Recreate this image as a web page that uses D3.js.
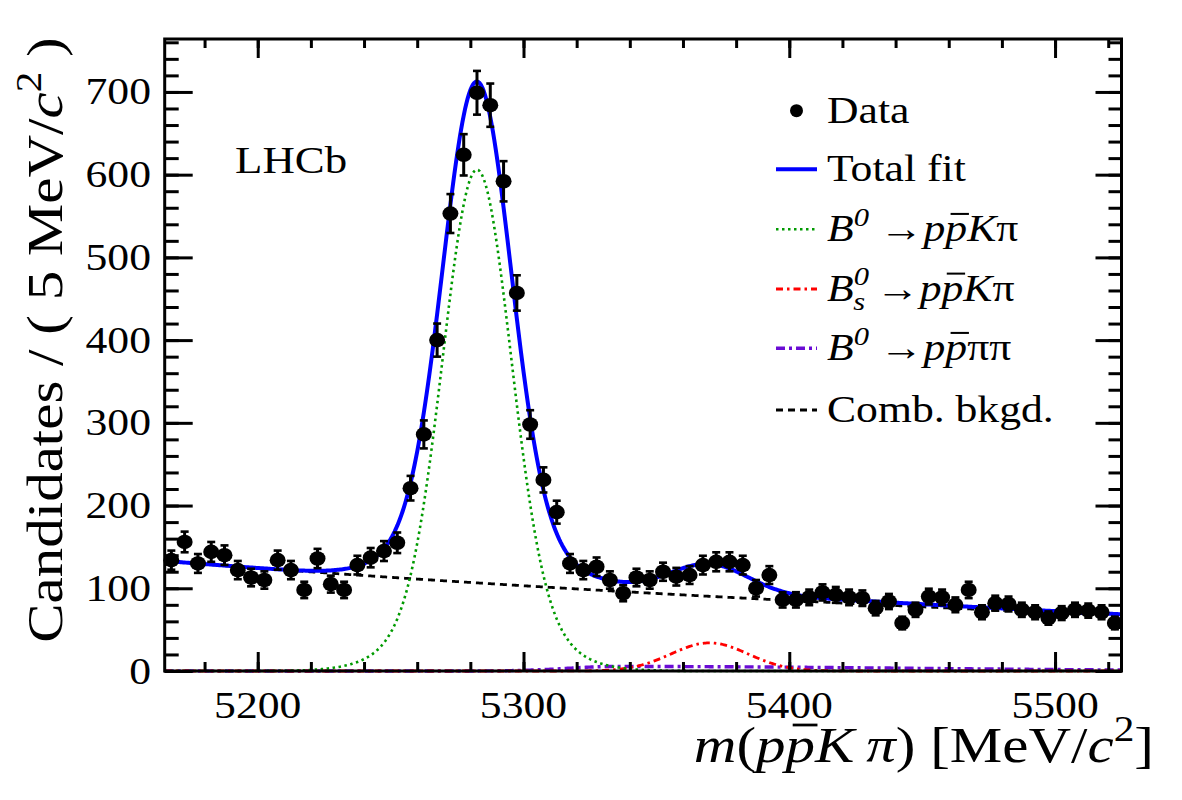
<!DOCTYPE html>
<html>
<head>
<meta charset="utf-8">
<script src="https://cdnjs.cloudflare.com/ajax/libs/d3/7.8.5/d3.min.js"></script>
<style>
body { margin: 0; background: #fff; }
svg { display: block; }
text { font-family: 'Liberation Serif', 'Times New Roman', serif; fill: #000; }
</style>
</head>
<body>
<svg width="1182" height="800"></svg>
<script>
// m(ppKpi) histogram, 5 MeV bins starting at 5165
const binStart = 5165
const binWidth = 5
const counts = [134, 156, 130, 144, 140, 122, 113, 110, 134, 122,
	98, 136, 105, 98, 128, 137, 145, 155, 221, 286,
	400, 553, 624, 699, 684, 592, 457, 298, 231, 192,
	130, 122, 126, 110, 94, 113, 110, 120, 114, 116,
	128, 132, 132, 128, 100, 116, 86, 86, 89, 95,
	92, 89, 88, 76, 84, 58, 74, 90, 89, 80,
	98, 71, 82, 81, 74, 71, 64, 70, 74, 73,
	71, 58]
const xMajor = [5200, 5300, 5400, 5500]
const yMajor = [0, 100, 200, 300, 400, 500, 600, 700]
const xRange = [5165, 5525]
const yRange = [0, 764]

// fit components
const b0Shape = [5282.5, 516, 12.5, 90, 21.5] // mean, core height, core sigma, tail height, tail sigma
const bsShape = [5370, 34, 14.5] // mean, height, sigma
const pipiShape = [5335, 5.5, 18, 110] // mode, height, left sigma, right sigma
const combShape = [133, -0.00189] // value at 5165, exponential slope

const legendNames = ['Data', 'Total fit', 'B0ppKpi', 'BsppKpi', 'B0pppipi', 'Comb. bkgd.']

const m = { left: 164.7, right: 1121.5, top: 39, bottom: 671 }
const SX = 1.18 // the glyphs in the picture are wider than Times

const svg = d3.select('svg')
const x = d3.scaleLinear().domain(xRange).range([m.left, m.right])
const y = d3.scaleLinear().domain(yRange).range([m.bottom, m.top])

const gauss = (v, mu, s) => Math.exp(-0.5 * ((v - mu) / s) ** 2)
const fB0 = v => b0Shape[1] * gauss(v, b0Shape[0], b0Shape[2]) + b0Shape[3] * gauss(v, b0Shape[0], b0Shape[4])
const fBs = v => bsShape[1] * gauss(v, bsShape[0], bsShape[2])
const fPiPi = v => pipiShape[1] * gauss(v, pipiShape[0], v < pipiShape[0] ? pipiShape[2] : pipiShape[3])
const fComb = v => combShape[0] * Math.exp(combShape[1] * (v - binStart))
const fTotal = v => fB0(v) + fBs(v) + fPiPi(v) + fComb(v)

const styles = {
	total: { color: '#0000ff', width: 4, dash: null },
	b0: { color: '#009a00', width: 2.6, dash: '2.5,3.5' },
	bs: { color: '#ff0000', width: 2.8, dash: '7,4,2.5,4' },
	pipi: { color: '#6a0cd4', width: 3.4, dash: '9,4,3,4' },
	comb: { color: '#000000', width: 2.8, dash: '7,5' }
}

// rich text: parts with italic / sup / sub / overline
function rich(parent, px, py, parts, opt) {
	const fs = opt.size
	const g = parent.append('g')
		.attr('transform', `translate(${px},${py}) rotate(${opt.rot || 0}) scale(${SX},1)`)
	const t = g.append('text')
		.attr('font-size', fs)
		.attr('text-anchor', opt.anchor || 'start')
	let shift = 0, idx = 0
	const bars = []
	parts.forEach(p => {
		const s = p.sup ? -0.42 * fs : p.sub ? 0.24 * fs : 0
		const ts = t.append('tspan')
			.text(p.t)
			.attr('font-size', (p.sup || p.sub) ? fs * 0.7 : fs)
			.attr('dy', s - shift)
		if (p.it) ts.attr('font-style', 'italic')
		if (p.dx) ts.attr('dx', p.dx * fs)
		if (p.bar) bars.push(idx)
		idx += [...p.t].length
		shift = s
	})
	bars.forEach(i => {
		const e = t.node().getExtentOfChar(i)
		g.append('line')
			.attr('x1', e.x + 0.12 * fs)
			.attr('x2', e.x + e.width + 0.04 * fs)
			.attr('y1', -0.74 * fs)
			.attr('y2', -0.74 * fs)
			.attr('stroke', '#000')
			.attr('stroke-width', 0.055 * fs)
	})
	return g
}

// curves
const grid = d3.range(xRange[0], xRange[1] + 0.001, 0.5)
const line = f => d3.line().x(v => x(v)).y(v => y(f(v)))(grid)
const curves = svg.append('g').attr('class', 'curves')
const drawCurve = (f, st) => curves.append('path')
	.attr('d', line(f))
	.attr('fill', 'none')
	.attr('stroke', st.color)
	.attr('stroke-width', st.width)
	.attr('stroke-dasharray', st.dash)
	.attr('stroke-linejoin', 'round')
drawCurve(fComb, styles.comb)
drawCurve(fPiPi, styles.pipi)
drawCurve(fBs, styles.bs)
drawCurve(fB0, styles.b0)
drawCurve(fTotal, styles.total)

// data points with sqrt(N) errors
const pts = svg.append('g').attr('class', 'data')
	.selectAll('g')
	.data(counts.map((c, i) => ({ m: binStart + (i + 0.5) * binWidth, c })))
	.join('g')
	.attr('transform', d => `translate(${x(d.m)},0)`)
pts.append('line')
	.attr('y1', d => y(d.c + Math.sqrt(d.c)))
	.attr('y2', d => y(d.c - Math.sqrt(d.c)))
	.attr('stroke', '#000').attr('stroke-width', 3)
pts.selectAll('line.cap')
	.data(d => [d.c + Math.sqrt(d.c), d.c - Math.sqrt(d.c)])
	.join('line')
	.attr('class', 'cap')
	.attr('x1', -4).attr('x2', 4)
	.attr('y1', v => y(v)).attr('y2', v => y(v))
	.attr('stroke', '#000').attr('stroke-width', 2.6)
pts.append('ellipse')
	.attr('cy', d => y(d.c))
	.attr('rx', 8).attr('ry', 7.3)
	.attr('fill', '#000')

// frame and ticks (inward, all four sides)
const xMinor = d3.range(5180, xRange[1], 20)
const yMinor = d3.range(0, yRange[1], 20)
const axes = svg.append('g').attr('class', 'axes')
const tickAxis = (g, axis) => {
	g.call(axis.tickFormat(''))
	g.select('.domain').remove()
	g.selectAll('line').attr('stroke-width', 3)
}
axes.append('g').attr('transform', `translate(0,${m.bottom})`).call(g => tickAxis(g, d3.axisBottom(x).tickValues(xMinor).tickSize(-9)))
axes.append('g').attr('transform', `translate(0,${m.bottom})`).call(g => tickAxis(g, d3.axisBottom(x).tickValues(xMajor).tickSize(-19)))
axes.append('g').attr('transform', `translate(0,${m.top})`).call(g => tickAxis(g, d3.axisTop(x).tickValues(xMinor).tickSize(-9)))
axes.append('g').attr('transform', `translate(0,${m.top})`).call(g => tickAxis(g, d3.axisTop(x).tickValues(xMajor).tickSize(-19)))
axes.append('g').attr('transform', `translate(${m.left},0)`).call(g => tickAxis(g, d3.axisLeft(y).tickValues(yMinor).tickSize(-14)))
axes.append('g').attr('transform', `translate(${m.left},0)`).call(g => tickAxis(g, d3.axisLeft(y).tickValues(yMajor).tickSize(-28)))
axes.append('g').attr('transform', `translate(${m.right},0)`).call(g => tickAxis(g, d3.axisRight(y).tickValues(yMinor).tickSize(-13)))
axes.append('g').attr('transform', `translate(${m.right},0)`).call(g => tickAxis(g, d3.axisRight(y).tickValues(yMajor).tickSize(-26)))
axes.append('rect')
	.attr('x', m.left).attr('y', m.top)
	.attr('width', m.right - m.left).attr('height', m.bottom - m.top)
	.attr('fill', 'none').attr('stroke', '#000').attr('stroke-width', 3)

// tick labels
const labels = svg.append('g').attr('class', 'labels')
xMajor.forEach(v => rich(labels, x(v), 718, [{ t: String(v) }], { size: 37, anchor: 'middle' }))
yMajor.forEach(v => rich(labels, 151, y(v) + 12.5, [{ t: String(v) }], { size: 37, anchor: 'end' }))

// axis titles
rich(svg, 1154, 762, [
	{ t: 'm', it: true }, { t: '(' }, { t: 'p', it: true }, { t: 'p', it: true, bar: true },
	{ t: 'K', it: true }, { t: '\u2009' }, { t: '\u03c0', it: true }, { t: ')' },
	{ t: ' [MeV/' }, { t: 'c', it: true }, { t: '2', sup: true }, { t: ']' }
], { size: 50, anchor: 'end' })
rich(svg, 62, 340, [
	{ t: 'Candidates / ( 5 MeV/' }, { t: 'c', it: true }, { t: '2', sup: true }, { t: ' )' }
], { size: 50, anchor: 'middle', rot: -90 })

rich(svg, 235, 173, [{ t: 'LHCb' }], { size: 38 })

// legend
const legX = 776, legX2 = 817, legText = 827
const rowY = [110.7, 169.3, 229.3, 289, 348.3, 410]
const legend = svg.append('g').attr('class', 'legend')
legend.append('circle').attr('cx', (legX + legX2) / 2).attr('cy', rowY[0]).attr('r', 6.5)
const legStyles = [styles.total, styles.b0, styles.bs, styles.pipi, styles.comb]
legStyles.forEach((st, i) => legend.append('line')
	.attr('x1', legX).attr('x2', legX2)
	.attr('y1', rowY[i + 1]).attr('y2', rowY[i + 1])
	.attr('stroke', st.color).attr('stroke-width', st.width)
	.attr('stroke-dasharray', st.dash))
const arrow = [{ t: ' \u2192' }]
const ppKpi = [{ t: 'p', it: true }, { t: 'p', it: true, bar: true }, { t: 'K', it: true }, { t: '\u03c0' }]
const pppipi = [{ t: 'p', it: true }, { t: 'p', it: true, bar: true }, { t: '\u03c0\u03c0' }]
const legParts = [
	[{ t: legendNames[0] }],
	[{ t: legendNames[1] }],
	[{ t: 'B', it: true }, { t: '0', it: true, sup: true }].concat(arrow, ppKpi),
	[{ t: 'B', it: true }, { t: '0', it: true, sup: true }, { t: 's', it: true, sub: true, dx: -0.36 }].concat(arrow, ppKpi),
	[{ t: 'B', it: true }, { t: '0', it: true, sup: true }].concat(arrow, pppipi),
	[{ t: legendNames[5] }]
]
legParts.forEach((p, i) => rich(legend, legText, rowY[i] + 12, p, { size: 37 }))
</script>
</body>
</html>
